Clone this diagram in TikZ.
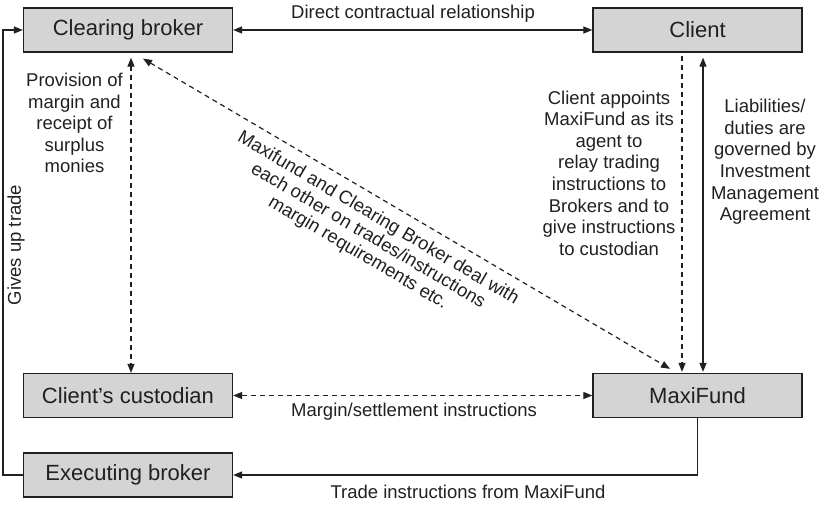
\documentclass[tikz,border=0pt]{standalone}
\usepackage{fontspec}
\setmainfont{Liberation Sans}
\usetikzlibrary{arrows.meta,calc}
\definecolor{boxgray}{RGB}{212,212,212}
\definecolor{ink}{RGB}{35,31,32}
\begin{document}
\begin{tikzpicture}[x=1pt,y=-1pt,
  box/.style={draw=ink, line width=1.3pt, fill=boxgray, minimum width=209pt,
    minimum height=44pt, inner sep=0pt, text=ink, font=\fontsize{22}{26}\selectfont},
  lbl/.style={font=\fontsize{18.5}{21.6}\selectfont, align=center, inner sep=0pt, text=ink},
  conn/.style={line width=1.2pt, draw=ink},
  dsh/.style={conn, dash pattern=on 5pt off 4pt},
  tipend/.style={-{Triangle[length=9pt,width=7pt]}},
  tipboth/.style={{Triangle[length=9pt,width=7pt]}-{Triangle[length=9pt,width=7pt]}}]
  \useasboundingbox (0,0) rectangle (824,505);

  % the five parties
  \node[box] (cb) at (128,30)    {Clearing broker};
  \node[box] (cl) at (697.5,30)  {Client};
  \node[box] (cu) at (128,395.5) {Client’s custodian};
  \node[box] (mf) at (697.5,395.5) {MaxiFund};
  \node[box] (ex) at (128,475)   {Executing broker};

  % clearing broker <-> client
  \draw[conn, tipboth] (cb.east) -- (cl.west);
  \node[lbl] (l1) at (413,14) {Direct contractual relationship};

  % clearing broker <-> custodian
  \draw[dsh, tipboth] ($(cb.south)+(3,5)$) -- ($(cu.north)+(3,0)$);
  \node[lbl] (l2) at (74.5,123) {Provision of\\margin and\\receipt of\\surplus\\monies};

  % clearing broker <-> MaxiFund
  \draw[dsh, tipboth] ($(cb.south)+(15,6)$) -- ($(mf.north)+(-27.5,-4)$);
  \node[lbl, rotate=-30.5, font=\fontsize{18.5}{20}\selectfont] (l3) at (368,236)
    {Maxifund and Clearing Broker deal with\\each other on trades/instructions\\margin requirements etc.};

  % client -> MaxiFund (agency) and client <-> MaxiFund (agreement)
  \draw[dsh, tipend] ($(cl.south)+(-15.5,3)$) -- ($(mf.north)+(-15.5,-1)$);
  \node[lbl] (l4) at (609,173) {Client appoints\\MaxiFund as its\\agent to\\relay trading\\instructions to\\Brokers and to\\give instructions\\to custodian};
  \draw[conn, tipboth] ($(cl.south)+(5.5,5)$) -- ($(mf.north)+(5.5,-1)$);
  \node[lbl] (l5) at (765,162) {Liabilities/\\duties are\\governed by\\Investment\\Management\\Agreement};

  % custodian <-> MaxiFund
  \draw[dsh, tipboth] (cu.east) -- (mf.west);
  \node[lbl] (l6) at (414,412) {Margin/settlement instructions};

  % MaxiFund -> executing broker
  \draw[conn, tipend] (mf.south) |- (ex.east);
  \node[lbl] (l7) at (468,492) {Trade instructions from MaxiFund};

  % executing broker gives up to clearing broker
  \coordinate (lp) at (3,475);
  \draw[conn, tipend] (ex.west) -- (lp) |- (cb.west);
  \node[lbl, rotate=90] (l8) at (16,245) {Gives up trade};
\end{tikzpicture}
\end{document}
